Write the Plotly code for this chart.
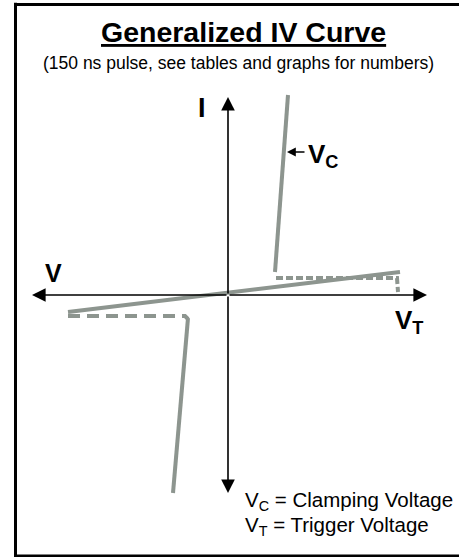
import plotly.graph_objects as go

# ---- data (generalized, arbitrary units) ----
main_v = [-16.0, 17.2]
main_i = [-1.7, 2.3]

clamp_hi_v = [6.0, 4.7]
clamp_hi_i = [20.0, 2.3]

snap_hi_v = [4.8, 16.9, 17.0]
snap_hi_i = [1.7, 1.7, 0.3]

snap_lo_v = [-16.0, -4.3, -4.0]
snap_lo_i = [-2.1, -2.1, -2.4]

clamp_lo_v = [-4.0, -5.5]
clamp_lo_i = [-2.3, -19.8]

axis_v_ends = [-19.6, 19.9]
axis_i_ends = [-19.8, 19.8]

title_text = "<b><u>Generalized IV Curve</u></b>"
subtitle_text = "(150 ns pulse, see tables and graphs for numbers)"
legend_lines = ["V<sub>C</sub> = Clamping Voltage", "V<sub>T</sub> = Trigger Voltage"]

GRAY = "#8d958f"
FONT = "Arial, 'Liberation Sans', sans-serif"

fig = go.Figure()

fig.add_trace(go.Scatter(x=snap_hi_v, y=snap_hi_i, mode="lines",
                         line=dict(color=GRAY, width=4, dash="7px,3px")))
fig.add_trace(go.Scatter(x=snap_lo_v, y=snap_lo_i, mode="lines",
                         line=dict(color=GRAY, width=4, dash="12px,7px")))
fig.add_trace(go.Scatter(x=main_v, y=main_i, mode="lines",
                         line=dict(color=GRAY, width=4)))
fig.add_trace(go.Scatter(x=clamp_hi_v, y=clamp_hi_i, mode="lines",
                         line=dict(color=GRAY, width=4)))
fig.add_trace(go.Scatter(x=clamp_lo_v, y=clamp_lo_i, mode="lines",
                         line=dict(color=GRAY, width=4)))

# axes with arrows
def arrow(x, y, ax, ay):
    fig.add_annotation(x=x, y=y, ax=ax, ay=ay, xref="x", yref="y", axref="x", ayref="y",
                       text="", showarrow=True, arrowhead=2, arrowsize=1.7,
                       arrowwidth=1.6, arrowcolor="black", standoff=0, startstandoff=0)

arrow(axis_v_ends[0], 0, 0, 0)
arrow(axis_v_ends[1], 0, 0, 0)
arrow(0, axis_i_ends[0], 0, 0)
arrow(0, axis_i_ends[1], 0, 0)

# V_C pointer
fig.add_annotation(x=5.9, y=14.3, ax=7.8, ay=14.3, xref="x", yref="y", axref="x", ayref="y",
                   text="", showarrow=True, arrowhead=2, arrowsize=1.1,
                   arrowwidth=1.6, arrowcolor="black", standoff=0)

def label(x, y, text, size, xanchor="center"):
    fig.add_annotation(x=x, y=y, xref="x", yref="y", text=text, showarrow=False,
                       xanchor=xanchor, yanchor="middle",
                       font=dict(family=FONT, size=size, color="black"))

label(1.5, 26.3, title_text, 28.5)
label(1.0, 23.2, subtitle_text, 17.5)
label(-2.6, 18.7, "<b>I</b>", 27)
label(-17.5, 2.2, "<b>V</b>", 25)
label(16.5, -2.6, "<b>V<sub>T</sub></b>", 26, xanchor="left")
label(7.8, 14.0, "<b>V<sub>C</sub></b>", 26, xanchor="left")
label(1.5, -20.6, legend_lines[0], 20.5, xanchor="left")
label(1.5, -23.1, legend_lines[1], 20.5, xanchor="left")

# frame (left, top, bottom edges; right edge lies outside the picture)
x_left = 15.5 / 459
y_top = 1 - 4.5 / 557
y_bot = 1 - 556 / 557
frame = dict(color="black", width=3)
fig.add_shape(type="line", xref="paper", yref="paper", x0=x_left, x1=x_left,
              y0=y_bot - 0.003, y1=y_top + 0.003, line=frame)
fig.add_shape(type="line", xref="paper", yref="paper", x0=x_left - 0.003, x1=1.0,
              y0=y_top, y1=y_top, line=frame)
fig.add_shape(type="line", xref="paper", yref="paper", x0=x_left - 0.003, x1=1.0,
              y0=y_bot, y1=y_bot, line=frame)

fig.update_layout(
    width=459, height=557, margin=dict(l=0, r=0, t=0, b=0),
    paper_bgcolor="white", plot_bgcolor="white", showlegend=False,
    xaxis=dict(range=[-22.8, 23.1], visible=False, fixedrange=True),
    yaxis=dict(range=[-26.2, 29.5], visible=False, fixedrange=True),
)

fig.write_html("out.html", config={"displayModeBar": False},
               post_script="document.body.style.margin='0';document.body.style.overflow='hidden';")
